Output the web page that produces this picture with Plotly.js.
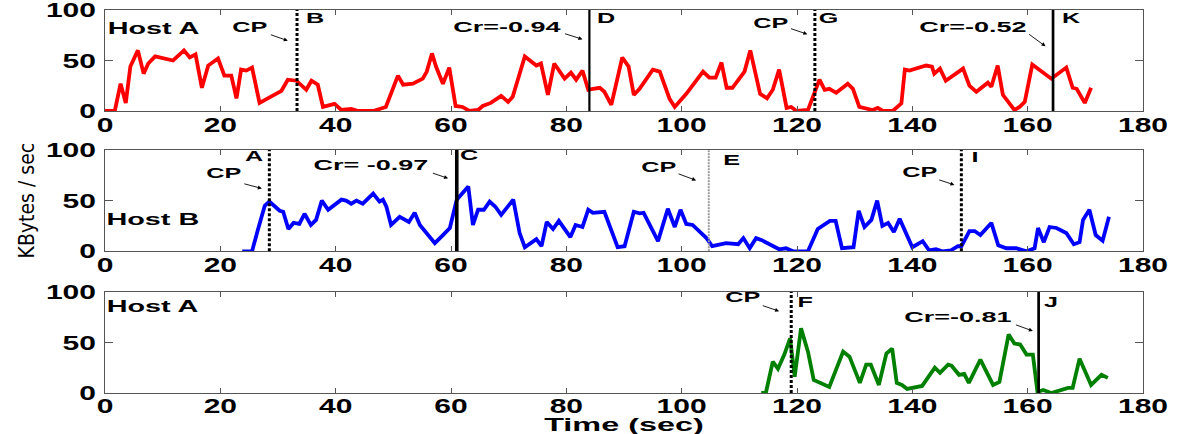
<!DOCTYPE html>
<html>
<head>
<meta charset="utf-8">
<script src="https://cdn.plot.ly/plotly-3.0.1.min.js"></script>
<style>
  html, body { margin: 0; padding: 0; background: #fff; }
  #chart { width: 1177px; height: 434px; }
</style>
</head>
<body>
<div id="chart"></div>
<script>
// ---------- data ----------
// Host A (top panel, red)
const timeA1 = [0,1.7,2.7,3.6,4.4,5.7,6.7,7.5,8.7,11.8,13.7,14.7,15.7,16.8,17.9,19.6,20.7,21.9,22.8,23.6,24.5,25.5,26.8,30.6,31.7,33.2,34.9,35.8,36.9,37.8,39.8,41.0,42.7,43.9,46.5,48.7,50.8,51.7,53.4,55.1,55.8,56.7,57.4,58.6,59.7,60.8,62.0,63.2,64.7,65.5,66.9,68.7,69.9,70.7,72.8,74.8,75.6,76.8,77.9,79.7,80.8,81.7,82.8,83.8,84.6,85.8,86.6,87.8,89.7,90.8,91.7,92.7,95.0,96.2,97.9,98.8,100.8,103.7,104.8,105.9,106.9,107.8,108.8,110.9,111.9,113.6,114.8,115.8,116.9,118.2,119.0,119.9,121.9,123.9,124.8,125.6,126.8,128.8,129.7,130.8,133.1,134.0,134.9,136.6,138.1,138.7,139.5,142.4,143.4,143.8,144.8,145.8,148.8,149.9,151.1,153.1,153.7,154.8,155.7,157.7,158.6,159.5,160.8,164.1,166.7,167.8,168.5,169.9,171.0];
const rateA1 = [0,0,27,8,44,60,37,47,54,50,60,53,56,23,45,52,35,35,12.5,41,40,43,8,20,31,30,21,30,26,4,7,1,2,0,0,4,35,26,27,32,39,57,44,27,43,5,4,0,1,5,8,15,9,14,54,45,47,16,47,32,38,31,40,21,22,23,19,6,53,44,16,22,41,39,12,4,17,39,33,33,48,23,23,39,60,17,12.5,21,41,3,4,0,1,31,21,22,18,27,22,4,1,3,0,0,7.6,41,40,45,44,37,42,30,42,25,19,28,24,45,16,1,4,9,46,32,43,23,22,8,23];

// Host B (middle panel, blue)
const timeB = [23.8,25.5,26.5,27.7,28.5,29.4,30.3,30.9,31.8,32.7,33.7,34.6,35.7,36.6,37.6,38.7,41.0,41.8,42.7,43.6,44.7,46.5,47.6,48.2,48.8,49.6,51.1,52.7,53.7,54.6,57.2,58.6,59.8,61.0,63.0,63.8,64.7,65.7,66.7,67.7,68.7,70.8,71.9,72.8,74.8,75.7,76.6,77.7,78.7,80.7,81.6,82.8,83.8,84.6,86.6,88.9,90.1,91.7,92.7,93.4,95.9,97.6,98.8,99.8,100.8,101.9,104.3,105.3,107.7,109.8,110.7,111.8,112.9,113.9,115.8,116.9,118.1,119.3,121.9,123.6,125.7,126.7,127.8,129.8,130.7,131.7,132.9,133.9,134.8,135.8,136.8,137.8,140.0,141.8,142.9,144.1,145.2,146.7,147.9,148.5,149.9,150.8,151.8,153.7,154.9,156.3,158.0,159.8,161.2,161.8,162.8,163.8,165.0,166.7,168.0,169.0,169.6,170.7,171.8,173.0,174.1];
const rateB = [0,0,21,45,49,44,40,39,22,28,27,37,26,31,50,41,51,50,47,50,47,57,49,51,44,26,34,29,38,26,8,16,23,51,64,26,41,41,49,44,36,51,18,4,12,5,29,22,30,14,26,24,41,38,39,4,5,39,37.5,38,10,42,24,41,27,26,13,5,8,7,13,3,13,11,5,2,3,0,0,22,30,30,3,4,40,24,31,50,25,28,19,32,4,10,1,2,0,1,5,5,20,20,16,28,6,3,3,0,3,23,9,24,23,18,7,9,31,41,16,10.5,34];

// Host A (bottom panel, green)
const timeA2 = [113.8,114.6,115.8,116.7,117.8,118.8,119.6,120.7,121.9,122.9,125.6,128.0,129.1,130.9,132.0,132.8,134.2,135.5,136.5,137.3,138.2,139.1,141.7,143.9,144.8,146.2,146.8,148.1,149.0,149.8,151.8,154.0,155.1,156.7,157.7,158.7,159.8,160.9,161.7,162.7,164.1,167.0,167.8,169.0,171.0,172.8,173.9];
const rateA2 = [0,0,31,24,38,54,16,64,41,13,6,41,36,10,28,28,8,39,44,10,8,4,7,25,20,28,27,18,19,10,33,8,11,58,49,48,38,38,1,3,0,5,5,34,8,18,15];

// event markers (time in sec)
const markerPanel = [1, 1, 1, 1, 2, 2, 2, 2, 3, 3];
const markerTime  = [33.3, 84.0, 123.1, 164.4, 28.5, 61.0, 104.7, 148.5, 119.0, 161.9];
const markerKind  = ['cp', 'cr', 'cp', 'cr', 'cp', 'cr', 'cpFaint', 'cp', 'cp', 'cr'];
const markerName  = ['B', 'D', 'G', 'K', 'A', 'C', 'E', 'I', 'F', 'J'];
const markerNote  = ['CP', 'Cr=-0.94', 'CP', 'Cr=-0.52', 'CP', 'Cr= -0.97', 'CP', 'CP', 'CP', 'Cr=-0.81'];

const hostNames = ['Host A', 'Host B', 'Host A'];
const xTicks = [0, 20, 40, 60, 80, 100, 120, 140, 160, 180];
const yTicks = [0, 50, 100];

// ---------- styling / placement (not data) ----------
const FONT = 'Liberation Sans, Arial, Helvetica, sans-serif';
const axKeys = [['x', 'y'], ['x2', 'y2'], ['x3', 'y3']];
const lineColors = ['#ff0000', '#0000ff', '#008000'];
const markerWidth = [3, 2.2, 3, 2.7, 3, 3.6, 2, 3, 3, 2.7];

// label placement per marker: name label (x,y), note label (x,y), arrow tail (x,y), arrow head (x,y)
const namePos = [[36.4,92],[86.9,92],[125.5,92],[167.5,92],[25.8,94],[63.1,95],[108.7,90],[150.8,93],[121.5,90],[164.0,90]];
const notePos = [[25.1,83],[69.7,84],[115.4,87],[150.6,84],[20.5,77],[46.1,86],[95.9,83],[141.2,78],[110.6,95],[148.0,75.5]];
const arrowTail = [[28.5,76],[79.5,77],[118.7,82],[160.0,77],[23.9,67],[56.6,77.6],[99.2,77],[144.4,71],[113.8,87],[157.7,68]];
const arrowHead = [[31.7,69.6],[82.8,71],[121.8,76],[163.1,64],[27.2,62],[59.5,72],[102.5,70],[147.3,65.5],[116.9,81],[160.9,61.4]];
const hostPos = [[8.4,82],[8.3,31],[8.3,86]];

const series = [[timeA1, rateA1], [timeB, rateB], [timeA2, rateA2]];
const traces = series.map((s, i) => ({
  type: 'scatter', mode: 'lines',
  x: s[0], y: s[1],
  xaxis: axKeys[i][0], yaxis: axKeys[i][1],
  line: {color: lineColors[i], width: 3.8},
  hoverinfo: 'skip'
}));

const shapes = markerTime.map((t, i) => {
  const p = markerPanel[i] - 1;
  const k = markerKind[i];
  let line;
  if (k === 'cr') line = {color: '#000', width: markerWidth[i]};
  else if (k === 'cp') line = {color: '#000', width: markerWidth[i], dash: '3px,2px'};
  else line = {color: '#9c9c9c', width: markerWidth[i], dash: '2px,1px'};
  return {type: 'line', xref: axKeys[p][0], yref: axKeys[p][1],
          x0: t, x1: t, y0: 0, y1: 100, line: line, layer: 'above'};
});

const annotations = [];
markerTime.forEach((t, i) => {
  const p = markerPanel[i] - 1;
  const xr = axKeys[p][0], yr = axKeys[p][1];
  annotations.push({xref: xr, yref: yr, x: namePos[i][0], y: namePos[i][1], text: markerName[i],
    showarrow: false, xanchor: 'center', yanchor: 'middle',
    font: {family: FONT, size: 14, weight: 'bold', color: '#000'}});
  annotations.push({xref: xr, yref: yr, x: notePos[i][0], y: notePos[i][1], text: markerNote[i],
    showarrow: false, xanchor: 'center', yanchor: 'middle',
    font: {family: FONT, size: markerNote[i] === 'CP' ? 14 : 15, weight: 'bold', color: '#000'}});
  annotations.push({xref: xr, yref: yr, axref: xr, ayref: yr,
    x: arrowHead[i][0], y: arrowHead[i][1], ax: arrowTail[i][0], ay: arrowTail[i][1],
    text: '', showarrow: true, arrowhead: 2, arrowsize: 0.9, arrowwidth: 0.9, arrowcolor: '#000'});
});
hostNames.forEach((h, i) => {
  annotations.push({xref: axKeys[i][0], yref: axKeys[i][1], x: hostPos[i][0], y: hostPos[i][1],
    text: h, showarrow: false, xanchor: 'center', yanchor: 'middle',
    font: {family: FONT, size: 16, weight: 'bold', color: '#000'}});
});

function axisBase(isX) {
  return {
    showline: true, mirror: 'ticks', linecolor: '#555', linewidth: 1,
    ticks: 'inside', ticklen: isX ? 5 : 8, tickwidth: 1, tickcolor: '#555',
    showgrid: false, zeroline: false, fixedrange: true,
    tickmode: 'array',
    tickvals: isX ? xTicks : yTicks,
    ticktext: (isX ? xTicks : yTicks).map(String),
    range: isX ? [0, 180] : [0, 100],
    ticklabeloverflow: 'allow',
    tickfont: {family: FONT, size: 20, weight: 'bold', color: '#000'}
  };
}

const yDomains = [[0.7363, 1], [0.370, 0.6345], [0, 0.2637]];
const layout = {
  width: 1177, height: 434,
  margin: {l: 105, r: 34, t: 10, b: 41, pad: 0},
  paper_bgcolor: '#fff', plot_bgcolor: '#fff',
  showlegend: false,
  font: {family: FONT, color: '#000'},
  shapes: shapes,
  annotations: annotations
};
axKeys.forEach((k, i) => {
  const xn = 'xaxis' + (i ? i + 1 : ''), yn = 'yaxis' + (i ? i + 1 : '');
  layout[xn] = Object.assign(axisBase(true), {domain: [0, 1], anchor: k[1]});
  layout[yn] = Object.assign(axisBase(false), {domain: yDomains[i], anchor: k[0], ticklabelstandoff: 4});
});
layout.xaxis3.title = {text: 'Time (sec)', font: {family: FONT, size: 18, weight: 'bold', color: '#000'}, standoff: 0};
layout.yaxis2.title = {text: 'KBytes / sec', font: {family: 'Liberation Sans Narrow, DejaVu Sans Condensed, Arial Narrow, sans-serif', size: 21, color: '#000'}, standoff: 22};

function stretch(t, f) {
  const w = t.getComputedTextLength();
  if (w > 0) {
    t.setAttribute('textLength', (w * f).toFixed(1));
    t.setAttribute('lengthAdjust', 'spacingAndGlyphs');
  }
}
function shiftUp(el, dy) {
  const prev = el.getAttribute('transform') || '';
  el.setAttribute('transform', 'translate(0,' + (-dy) + ') ' + prev);
}
function widen(gd) {
  gd.querySelectorAll('.xtick text, .ytick text, .x2tick text, .y2tick text, .x3tick text, .y3tick text')
    .forEach(t => stretch(t, 1.5));
  // MATLAB-style: x tick labels sit close under the axis
  gd.querySelectorAll('.xtick text, .x2tick text').forEach(t => shiftUp(t, 4));
  gd.querySelectorAll('.x3tick text').forEach(t => shiftUp(t, 5));
  gd.querySelectorAll('text.annotation-text').forEach(t => stretch(t, 1.8));
  gd.querySelectorAll('text.x3title').forEach(t => { stretch(t, 1.8); shiftUp(t, -1); });
}

Plotly.newPlot('chart', traces, layout, {staticPlot: true, displayModeBar: false})
  .then(widen);
</script>
</body>
</html>
